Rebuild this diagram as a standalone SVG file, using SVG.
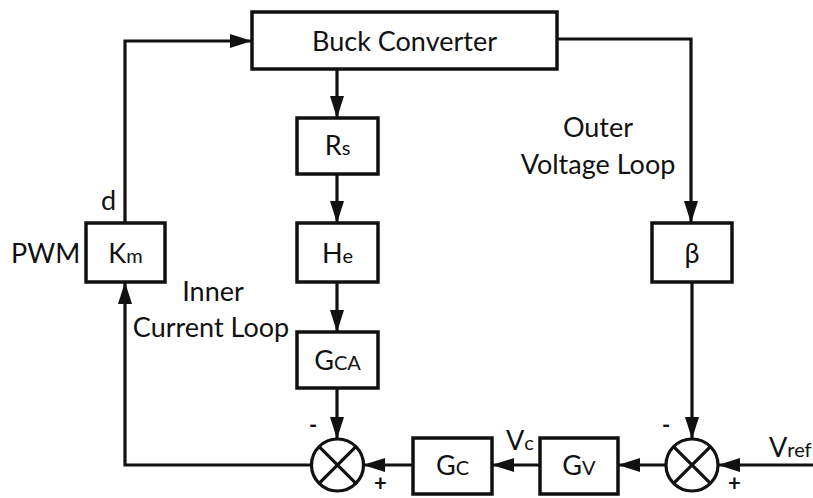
<svg xmlns="http://www.w3.org/2000/svg" width="813" height="498" viewBox="0 0 813 498">
<defs>
<marker id="ah" markerUnits="userSpaceOnUse" markerWidth="22" markerHeight="14" refX="21" refY="7" orient="auto">
<path d="M0,0 L22,7 L0,14 z" fill="#111"/>
</marker>
<style>
.box{fill:#fff;stroke:#111;stroke-width:3.5}
.ln{fill:none;stroke:#111;stroke-width:3.2}
.t{font-family:Lato,"Liberation Sans",sans-serif;font-size:27px;fill:#111}
.s{font-size:20px}
.sg{font-family:Lato,"Liberation Sans",sans-serif;font-size:22px;fill:#111;font-weight:bold}
</style>
</defs>
<rect width="813" height="498" fill="#fff"/>
<g id="connectors">
<polyline class="ln" points="125,223 125,41 251,41" marker-end="url(#ah)"/>
<line class="ln" x1="337" y1="69" x2="337" y2="117" marker-end="url(#ah)"/>
<line class="ln" x1="337" y1="174" x2="337" y2="222" marker-end="url(#ah)"/>
<line class="ln" x1="337" y1="282" x2="337" y2="331" marker-end="url(#ah)"/>
<line class="ln" x1="337" y1="388" x2="337" y2="438" marker-end="url(#ah)"/>
<polyline class="ln" points="557,39 691,39 691,222" marker-end="url(#ah)"/>
<line class="ln" x1="692" y1="282" x2="692" y2="438" marker-end="url(#ah)"/>
<line class="ln" x1="813" y1="465" x2="719" y2="465" marker-end="url(#ah)"/>
<line class="ln" x1="666" y1="465" x2="619" y2="465" marker-end="url(#ah)"/>
<line class="ln" x1="540" y1="465" x2="493" y2="465" marker-end="url(#ah)"/>
<line class="ln" x1="412" y1="465" x2="364" y2="465" marker-end="url(#ah)"/>
<polyline class="ln" points="311,465 125,465 125,283" marker-end="url(#ah)"/>
</g>
<g id="buck"><rect class="box" x="252" y="12" width="305" height="57"/><text class="t" x="404.5" y="51" text-anchor="middle">Buck Converter</text></g>
<g id="rs"><rect class="box" x="297" y="118" width="81" height="56"/><text class="t" x="337.5" y="155" text-anchor="middle">R<tspan class="s">s</tspan></text></g>
<g id="he"><rect class="box" x="297" y="223" width="81" height="59"/><text class="t" x="337.5" y="263" text-anchor="middle">H<tspan class="s">e</tspan></text></g>
<g id="km"><rect class="box" x="86" y="223" width="79" height="59"/><text class="t" x="125.5" y="263" text-anchor="middle">K<tspan class="s">m</tspan></text></g>
<g id="gca"><rect class="box" x="297" y="332" width="81" height="56"/><text class="t" x="337.5" y="370" text-anchor="middle">G<tspan class="s">CA</tspan></text></g>
<g id="beta"><rect class="box" x="652" y="223" width="80" height="59"/><text class="t" x="692" y="263" text-anchor="middle">β</text></g>
<g id="gc"><rect class="box" x="413" y="438" width="79" height="56"/><text class="t" x="452.5" y="475" text-anchor="middle">G<tspan class="s">C</tspan></text></g>
<g id="gv"><rect class="box" x="540" y="438" width="78" height="56"/><text class="t" x="579" y="475" text-anchor="middle">G<tspan class="s">V</tspan></text></g>
<g id="sum1"><circle cx="337.5" cy="465" r="26" fill="#fff" stroke="#111" stroke-width="3.2"/><path class="ln" d="M319.1,446.6 L355.9,483.4 M355.9,446.6 L319.1,483.4"/></g>
<g id="sum2"><circle cx="692" cy="465" r="26" fill="#fff" stroke="#111" stroke-width="3.2"/><path class="ln" d="M673.6,446.6 L710.4,483.4 M710.4,446.6 L673.6,483.4"/></g>
<g id="labels">
<text class="t" x="11" y="263">PWM</text>
<text class="t" x="101" y="210">d</text>
<text class="t" x="213" y="301" text-anchor="middle">Inner</text>
<text class="t" x="211" y="337" text-anchor="middle">Current Loop</text>
<text class="t" x="598" y="137" text-anchor="middle">Outer</text>
<text class="t" x="598" y="174" text-anchor="middle">Voltage Loop</text>
<text class="t" x="506" y="450">V<tspan class="s">c</tspan></text>
<text class="t" x="769" y="457">V<tspan class="s">ref</tspan></text>
<text class="sg" x="309" y="433">-</text>
<text class="sg" x="374" y="491">+</text>
<text class="sg" x="662" y="433">-</text>
<text class="sg" x="728" y="491">+</text>
</g>
</svg>
